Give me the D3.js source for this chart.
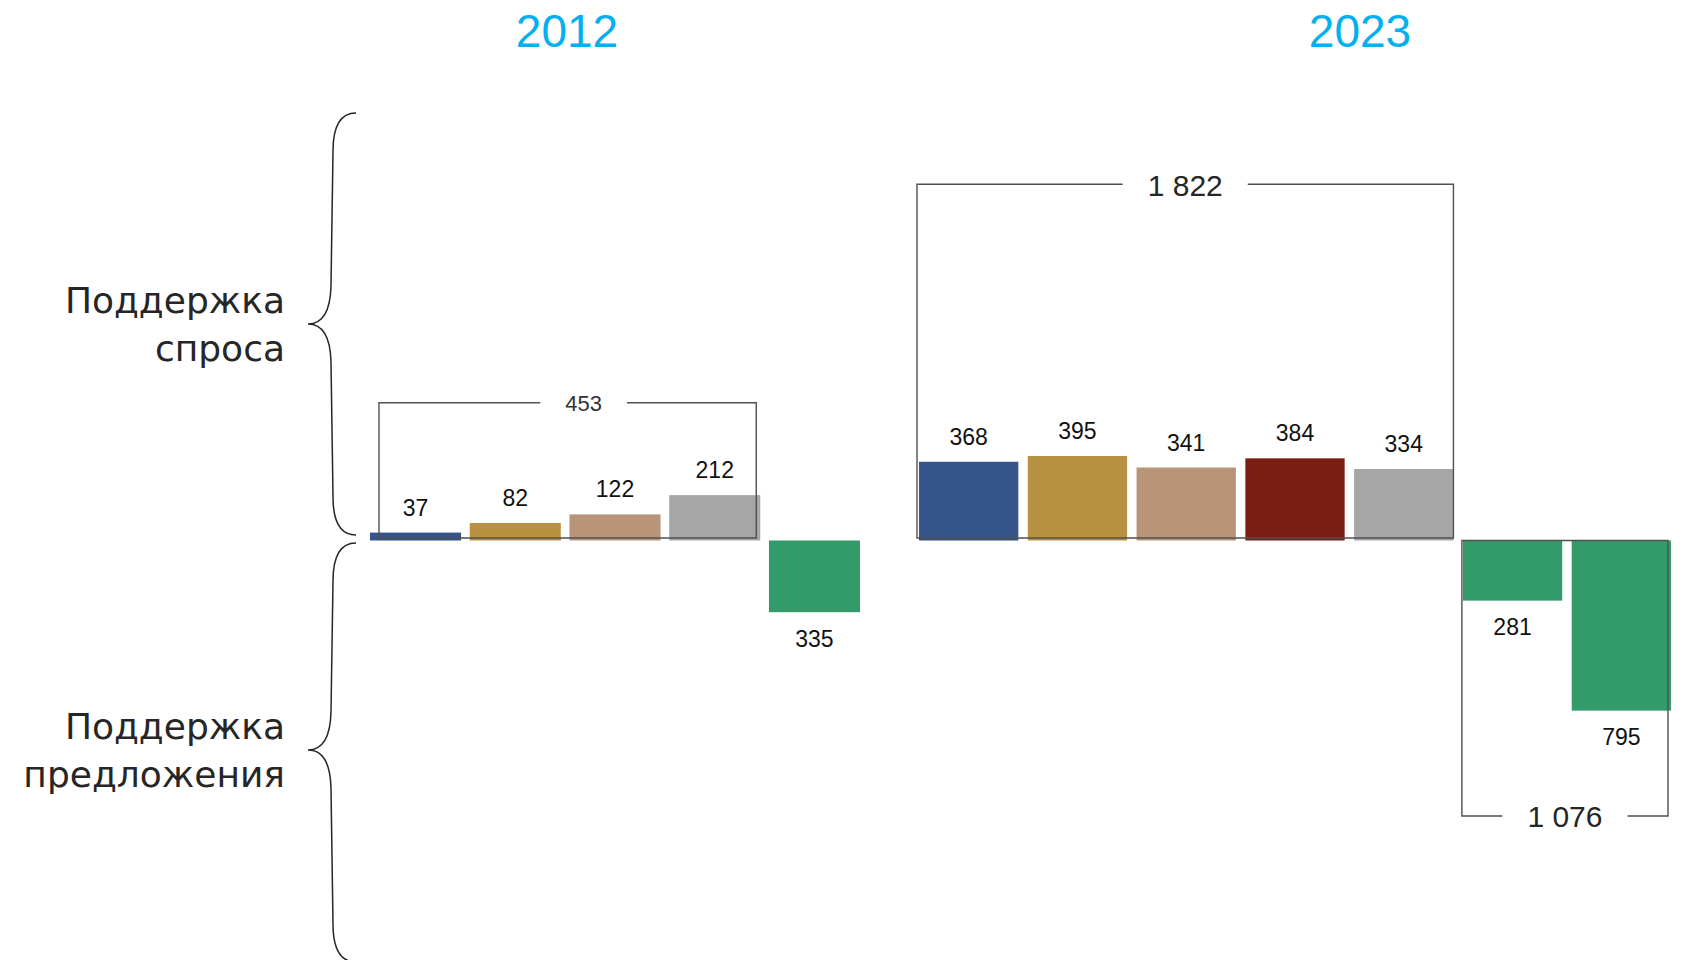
<!DOCTYPE html>
<html lang="ru">
<head>
<meta charset="utf-8">
<style>
  body { margin: 0; background: #fff; }
  svg { display: block; background: #fff; }
  .val { font-family: "Liberation Sans", Arial, sans-serif; font-size: 23px; fill: #111; }
  .total { font-family: "Liberation Sans", Arial, sans-serif; fill: #262626; }
  .year { font-family: "Liberation Sans Narrow", "Arial Narrow", "Liberation Sans", sans-serif; font-size: 46px; fill: #00b0f0; }
  .side { font-family: "DejaVu Sans", Verdana, sans-serif; font-size: 36px; fill: #262626; }
</style>
</head>
<body>
<script src="https://cdn.jsdelivr.net/npm/d3@7"></script>
<script>
// data
var years = ["2012", "2023"];
var demand2012 = [37, 82, 122, 212];
var supply2012 = [335];
var demand2023 = [368, 395, 341, 384, 334];
var supply2023 = [281, 795];
var demandColors2012 = ["#34548a", "#b89142", "#b89478", "#a6a6a6"];
var demandColors2023 = ["#34548a", "#b89142", "#b89478", "#7b1f14", "#a6a6a6"];
var supplyColor = "#339a69";
var sideLabels = [["Поддержка", "спроса"], ["Поддержка", "предложения"]];

var W = 1683, H = 960;
var svg = d3.select("body").append("svg").attr("width", W).attr("height", H);

var fmt = d3.formatLocale({decimal: ",", thousands: "\u00a0", grouping: [3], currency: ["", ""]}).format(",d");

// one value scale shared by both years, zero in the middle
var y = d3.scaleLinear().domain([-2000, 2000]).range([968.5, 112.5]);

// each year gets its own band scale
var groups = [
  {year: years[0], demand: demand2012, supply: supply2012, colors: demandColors2012,
   range: [370, 860], titleX: 567,
   brackets: [{kind: "demand", top: 402.7, inset: [9, 4], dx: 16, size: 22, color: "#333"}]},
  {year: years[1], demand: demand2023, supply: supply2023, colors: demandColors2023,
   range: [919, 1671], titleX: 1360,
   brackets: [{kind: "demand", top: 184.3, inset: [-2, 0], dx: 0, size: 30, color: "#262626"},
              {kind: "supply", bottom: 816, inset: [-1, 3], dx: 0, size: 30, color: "#262626"}]}
];

groups.forEach(function (g) {
  var items = g.demand.map(function (v, i) { return {v: v, kind: "demand", color: g.colors[i]}; })
    .concat(g.supply.map(function (v) { return {v: v, kind: "supply", color: supplyColor}; }));
  items.forEach(function (d, i) { d.i = i; });

  var x = d3.scaleBand().domain(d3.range(items.length)).range(g.range).paddingInner(0.087);
  var gg = svg.append("g");

  gg.selectAll("rect").data(items).enter().append("rect")
    .attr("x", function (d) { return x(d.i); })
    .attr("width", x.bandwidth())
    .attr("y", function (d) { return d.kind === "demand" ? y(d.v) : y(0); })
    .attr("height", function (d) { return d.kind === "demand" ? y(0) - y(d.v) : y(-d.v) - y(0); })
    .attr("fill", function (d) { return d.color; });

  gg.selectAll("text.val").data(items).enter().append("text")
    .attr("class", "val")
    .attr("text-anchor", "middle")
    .attr("x", function (d) { return x(d.i) + x.bandwidth() / 2; })
    .attr("y", function (d) { return d.kind === "demand" ? y(d.v) - 17 : y(-d.v) + 34.5; })
    .text(function (d) { return fmt(d.v); });

  // total brackets
  g.brackets.forEach(function (b) {
    var sel = items.filter(function (d) { return d.kind === b.kind; });
    var total = d3.sum(sel, function (d) { return d.v; });
    var x0 = x(sel[0].i) + b.inset[0];
    var x1 = x(sel[sel.length - 1].i) + x.bandwidth() - b.inset[1];
    var cx = (x0 + x1) / 2 + b.dx;
    var lineY, otherY;
    if (b.kind === "demand") { lineY = b.top; otherY = y(0) - 2.5; }
    else { lineY = b.bottom; otherY = y(0); }

    var t = gg.append("text").attr("class", "total")
      .attr("text-anchor", "middle")
      .attr("x", cx).attr("y", lineY).attr("dy", "0.38em")
      .style("font-size", b.size + "px").style("fill", b.color)
      .text(fmt(total));
    var half = t.node().getComputedTextLength() / 2 + 25;

    gg.insert("path", "text.total")
      .attr("d", "M" + (cx - half) + "," + lineY + "H" + x0 + "V" + otherY +
                 "H" + x1 + "V" + lineY + "H" + (cx + half))
      .attr("fill", "none")
      .attr("stroke", "#505050")
      .attr("stroke-width", 1.4);
  });

  svg.append("text").attr("class", "year")
    .attr("text-anchor", "middle")
    .attr("x", g.titleX).attr("y", 46.7)
    .text(g.year);
});

// left side: braces and labels
var braces = [
  {y0: 113, tip: 324, y1: 535},
  {y0: 543, tip: 750, y1: 962}
];
var xe = 356, xs = 333, xt = 308, q = 38;
braces.forEach(function (b, i) {
  var p = d3.path();
  p.moveTo(xe, b.y0);
  p.quadraticCurveTo(xs, b.y0, xs, b.y0 + q);
  p.lineTo(xs - 2, b.tip - q);
  p.quadraticCurveTo(xs - 3, b.tip, xt, b.tip);
  p.quadraticCurveTo(xs - 3, b.tip, xs - 2, b.tip + q);
  p.lineTo(xs, b.y1 - q);
  p.quadraticCurveTo(xs, b.y1, xe, b.y1);
  svg.append("path").attr("d", p.toString())
    .attr("fill", "none").attr("stroke", "#262626").attr("stroke-width", 1.5);

  var txt = svg.append("text").attr("class", "side").attr("text-anchor", "end");
  sideLabels[i].forEach(function (s, j) {
    txt.append("tspan").attr("x", 285).attr("y", b.tip - 11 + j * 48).text(s);
  });
});
</script>
</body>
</html>
